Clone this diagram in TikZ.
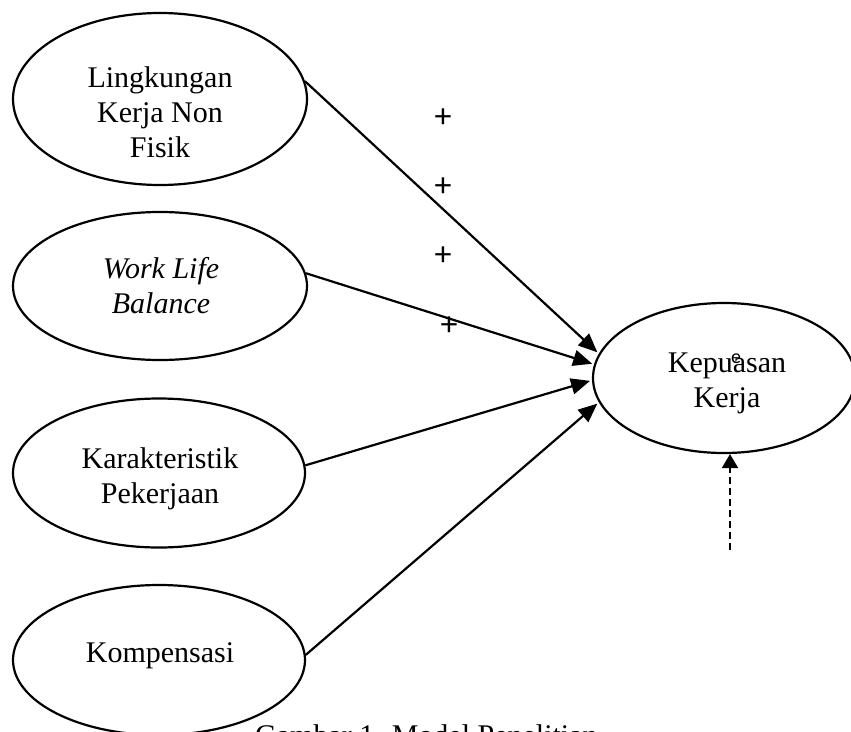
\documentclass[tikz,border=0pt]{standalone}
\usepackage{fontspec}
\setmainfont{Liberation Serif}
\newfontfamily\plusfont{Carlito}
\usetikzlibrary{arrows.meta,shapes.geometric}
\begin{document}
\begin{tikzpicture}[x=1pt,y=-1pt,
  var/.style={ellipse, draw, line width=2.2pt, inner sep=0pt},
  txt/.style={align=center, font=\fontsize{30}{35}\selectfont, inner sep=0pt},
  sgn/.style={font=\plusfont\fontsize{34}{34}\selectfont, inner sep=0pt},
  link/.style={line width=2.2pt, -{Triangle[length=19pt,width=16pt]}, shorten >=2pt},
  errlink/.style={line width=2.2pt, dash pattern=on 7pt off 4pt, -{Triangle[length=14pt,width=16pt]}},
]
\useasboundingbox (0,0) rectangle (851,731);
\clip (0,0) rectangle (851,731);

% latent variables
\node[var, minimum width=294pt, minimum height=172pt] (lk)  at (160,99)  {};
\node[var, minimum width=294pt, minimum height=148pt] (wlb) at (160,286) {};
\node[var, minimum width=292pt, minimum height=149pt] (kar) at (159,473) {};
\node[var, minimum width=292pt, minimum height=150pt] (kom) at (159,660) {};
\node[var, minimum width=262pt, minimum height=150pt] (kep) at (724,378) {};

% texts
\node[txt] (lkt)  at (160,112) {Lingkungan\\Kerja Non\\Fisik};
\node[txt] (wlbt) at (161,286) {\itshape Work Life\\\itshape Balance};
\node[txt] (kart) at (160,479) {Karakteristik\\Pekerjaan};
\node[txt] (komt) at (160,656) {Kompensasi};
\node[txt] (kept) at (727,383) {Kepuasan\\Kerja};
\node[sgn, font=\plusfont\fontsize{20}{20}\selectfont] (err) at (736,359) {e};

% signs
\node[sgn] (p1) at (443,118) {+};
\node[sgn] (p2) at (443,187) {+};
\node[sgn] (p3) at (443,256) {+};
\node[sgn] (p4) at (449,326) {+};

% paths
\draw[link] (lk.7)  -- (kep.169);
\draw[link] (wlb.5) -- (kep.174);
\draw[link] (kar.3) -- (kep.181);
\draw[link] (kom.2) -- (kep.191);

% error term
\coordinate (e1) at (730,550);
\draw[errlink] (e1) -- (e1 |- kep.south);

% caption
\node[txt, anchor=base west] (cap) at (255,745) {Gambar 1. Model Penelitian};
\end{tikzpicture}
\end{document}
